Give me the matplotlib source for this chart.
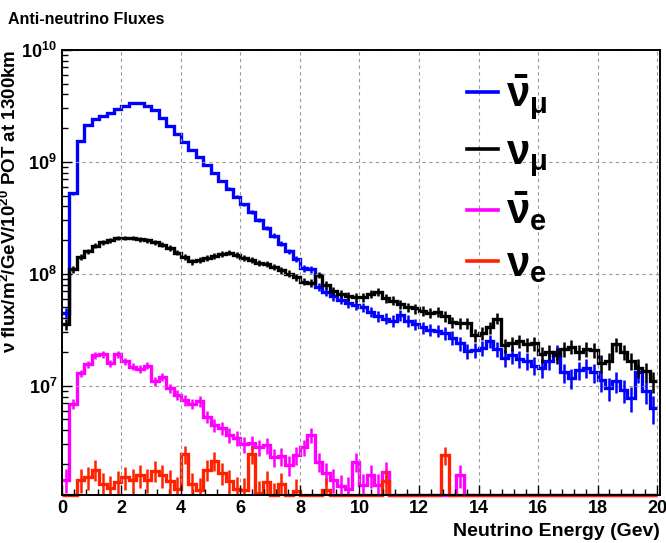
import numpy as np
import matplotlib
matplotlib.use("Agg")
from matplotlib import pyplot as plt
from matplotlib.lines import Line2D

# 0.25 GeV bins from 0 to 20 GeV, values are log10(flux), None = empty bin
bin_edges = np.linspace(0, 20, 81)

numubar_log = [7.65, 8.72, 9.19, 9.33, 9.38, 9.41, 9.44, 9.47, 9.50, 9.53,
               9.53, 9.50, 9.46, 9.39, 9.32, 9.25, 9.18, 9.11, 9.04, 8.97,
               8.90, 8.83, 8.76, 8.69, 8.62, 8.55, 8.48, 8.41, 8.34, 8.27,
               8.20, 8.13, 8.05, 8.04, 7.88, 7.84, 7.80, 7.77, 7.74, 7.72,
               7.70, 7.66, 7.62, 7.60, 7.58, 7.63, 7.58, 7.55, 7.52, 7.50,
               7.49, 7.47, 7.43, 7.38, 7.31, 7.32, 7.34, 7.40, 7.33, 7.25,
               7.27, 7.24, 7.22, 7.18, 7.16, 7.22, 7.30, 7.12, 7.07, 7.14,
               7.16, 7.12, 7.05, 6.98, 7.04, 6.96, 6.89, 7.12, 6.95, 6.80]

numu_log = [7.55, 8.04, 8.15, 8.20, 8.25, 8.28, 8.30, 8.32, 8.32, 8.32,
            8.31, 8.30, 8.28, 8.26, 8.23, 8.19, 8.15, 8.11, 8.12, 8.14,
            8.16, 8.18, 8.19, 8.17, 8.14, 8.12, 8.10, 8.09, 8.06, 8.03,
            8.00, 7.97, 7.93, 7.92, 7.99, 7.90, 7.85, 7.82, 7.80, 7.79,
            7.79, 7.82, 7.84, 7.78, 7.76, 7.73, 7.70, 7.69, 7.67, 7.65,
            7.66, 7.62, 7.57, 7.56, 7.56, 7.45, 7.47, 7.52, 7.60, 7.36,
            7.38, 7.40, 7.37, 7.38, 7.28, 7.30, 7.27, 7.33, 7.35, 7.30,
            7.33, 7.32, 7.20, 7.22, 7.37, 7.30, 7.22, 7.16, 7.13, 7.04]

nuebar_log = [6.16, 6.84, 7.11, 7.19, 7.27, 7.28, 7.20, 7.28, 7.22, 7.17,
              7.15, 7.18, 7.04, 7.08, 6.98, 6.92, 6.87, 6.84, 6.86, 6.72,
              6.65, 6.62, 6.56, 6.53, 6.48, 6.49, 6.45, 6.47, 6.36, 6.37,
              6.29, 6.38, 6.45, 6.56, 6.32, 6.22, 6.16, 6.10, 6.08, 6.32,
              6.11, 6.20, 6.11, 6.23, None, None, None, None, None, None,
              None, None, None, 6.20, None, None, None, None, None, None,
              None, None, None, None, None, None, None, None, None, None,
              None, None, None, None, None, None, None, None, None, None]

nue_log = [None, None, 6.16, 6.18, 6.25, 6.12, 6.09, 6.14, 6.18, 6.16,
           6.20, 6.16, 6.24, 6.20, 6.15, 6.08, 6.39, 6.12, 6.07, 6.25,
           6.33, 6.22, 6.15, 6.08, 6.07, 6.39, 6.04, 6.14, 6.02, 6.12,
           None, 6.06, None, None, None, 6.07, None, None, None, None,
           None, None, None, 6.15, None, None, None, None, None, None,
           None, 6.38, None, None, None, None, None, None, None, None,
           None, None, None, None, None, None, None, None, None, None,
           None, None, None, None, None, None, None, None, None, None]

series = [
    (numubar_log, "#0000ff", r"$\bar{\nu}_{\mu}$", 5e5),
    (numu_log, "#000000", r"$\nu_{\mu}$", 5e5),
    (nuebar_log, "#ff00ff", r"$\bar{\nu}_{e}$", 8e4),
    (nue_log, "#ff2200", r"$\nu_{e}$", 8e4),
]

ymin, ymax = 1.05e6, 1e10

plt.rcParams['font.family'] = ['Liberation Sans', 'DejaVu Sans']
plt.rcParams['font.weight'] = 'bold'
plt.rcParams['mathtext.fontset'] = 'custom'
plt.rcParams['mathtext.rm'] = 'Liberation Sans:bold'
plt.rcParams['mathtext.it'] = 'Liberation Sans:bold'
plt.rcParams['mathtext.bf'] = 'Liberation Sans:bold'

fig = plt.figure(figsize=(6.66, 5.43), dpi=100)
ax = fig.add_axes([0.093, 0.088, 0.898, 0.82])

centers = 0.5 * (bin_edges[:-1] + bin_edges[1:])
handles = []
for vals, col, lab, err_scale in series:
    flux = np.array([0.0 if v is None else 10 ** v for v in vals])
    ax.stairs(np.maximum(flux, ymin), bin_edges, color=col, lw=2.4,
              baseline=None, clip_on=False)
    ok = flux > 0
    err = np.sqrt(flux[ok] * err_scale)
    ax.errorbar(centers[ok], flux[ok], yerr=err, fmt='none', ecolor=col,
                elinewidth=1.8, capsize=0)
    handles.append(Line2D([], [], color=col, lw=2.6))

ax.set_yscale('log')
ax.set_xlim(0, 20.1)
ax.set_ylim(ymin, ymax)
ax.set_xticks(np.arange(0, 21, 2))
ax.xaxis.set_minor_locator(matplotlib.ticker.MultipleLocator(0.4))
ax.tick_params(which='both', direction='in', labelsize=13)
ax.tick_params(which='major', length=7, width=1)
ax.tick_params(which='minor', length=4, width=1)
for lbl in ax.get_xticklabels() + ax.get_yticklabels():
    lbl.set_fontweight('bold')
ax.grid(True, which='major', color='#999999', ls=(0, (3, 3)), lw=0.8)
for s in ax.spines.values():
    s.set_linewidth(1.4)

ax.set_xlabel("Neutrino Energy (Gev)", loc='right', fontsize=14,
              fontweight='bold', labelpad=4)
ax.set_ylabel(r"$\nu$ flux/m$^{2}$/GeV/10$^{20}$ POT at 1300km", loc='top',
              fontsize=13.5, fontweight='bold', labelpad=1)
fig.text(0.012, 0.955, "Anti-neutrino Fluxes", fontsize=11.5, fontweight='bold')

leg = ax.legend(handles, [s[2] for s in series], loc='upper left',
                bbox_to_anchor=(0.677, 0.95), frameon=False, fontsize=30,
                handlelength=0.75, handletextpad=0.2, labelspacing=0.28,
                borderpad=0, borderaxespad=0)

fig.savefig("out.png", dpi=100)
